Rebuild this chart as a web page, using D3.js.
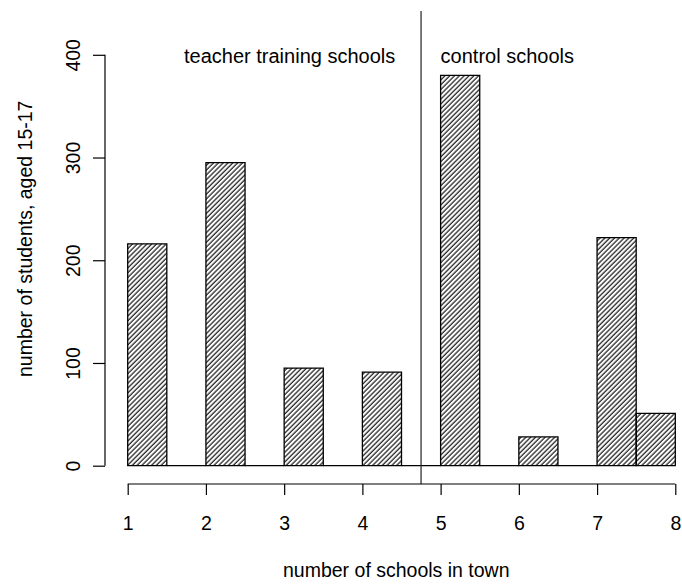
<!DOCTYPE html>
<html>
<head>
<meta charset="utf-8">
<script src="https://cdn.jsdelivr.net/npm/d3@7"></script>
<style>
  body { margin: 0; background: #fff; }
  text { font-family: "Liberation Sans", Arial, sans-serif; fill: #000; }
</style>
</head>
<body>
<svg id="chart"></svg>
<script>
// Chart size
const width = 682;
const height = 584;

// Data: each bar covers [start, start + 0.5]
const binStarts = [1, 1.5, 2, 2.5, 3, 3.5, 4, 4.5, 5, 5.5, 6, 6.5, 7, 7.5];
const counts = [216, 0, 295, 0, 95, 0, 91, 0, 380, 0, 28, 0, 222, 51];
const binWidth = 0.5;
const divider = 4.75;
const xTicks = [1, 2, 3, 4, 5, 6, 7, 8];
const yTicks = [0, 100, 200, 300, 400];
const groupLabels = [
  { text: "teacher training schools", x: 1.72 },
  { text: "control schools", x: 5.0 }
];

const fontSize = 19.5;
const svg = d3.select("#chart").attr("width", width).attr("height", height);

// Scales
const xScale = d3.scaleLinear().domain([1, 8]).range([127.7, 675.3]);
const yScale = d3.scaleLinear().domain([0, 400]).range([465.7, 54.8]);

// Hatch pattern
const defs = svg.append("defs");
defs
  .append("pattern")
  .attr("id", "hatch")
  .attr("patternUnits", "userSpaceOnUse")
  .attr("width", 3.4)
  .attr("height", 10)
  .attr("patternTransform", "rotate(45)")
  .append("line")
  .attr("x1", 1)
  .attr("y1", 0)
  .attr("x2", 1)
  .attr("y2", 10)
  .attr("stroke", "#000")
  .attr("stroke-width", 1.1);

// Bars (drawn as paths so zero bars still show as a line)
svg
  .selectAll("path.bar")
  .data(binStarts.map((s, i) => ({ start: s, value: counts[i] })))
  .enter()
  .append("path")
  .attr("class", "bar")
  .attr("d", (d) => {
    const x0 = xScale(d.start);
    const x1 = xScale(d.start + binWidth);
    const y0 = yScale(0);
    const y1 = yScale(d.value);
    return `M${x0},${y0}L${x0},${y1}L${x1},${y1}L${x1},${y0}Z`;
  })
  .attr("fill", "url(#hatch)")
  .attr("stroke", "#000")
  .attr("stroke-width", 1.3);

// Divider line
svg
  .append("line")
  .attr("x1", xScale(divider))
  .attr("x2", xScale(divider))
  .attr("y1", 11)
  .attr("y2", 484)
  .attr("stroke", "#222")
  .attr("stroke-width", 1.2);

// Group labels
svg
  .selectAll("text.group")
  .data(groupLabels)
  .enter()
  .append("text")
  .attr("class", "group")
  .attr("x", (d) => xScale(d.x))
  .attr("y", 63)
  .attr("font-size", 20)
  .text((d) => d.text);

// X axis
const xAxis = d3.axisBottom(xScale).tickValues(xTicks).tickSize(11).tickPadding(0).tickFormat(d3.format("d"));
const gx = svg.append("g").attr("transform", "translate(0,484)").call(xAxis);
gx.select(".domain").attr("d", `M${xScale(1)},0H${xScale(8)}`);
gx.selectAll("path, line").attr("stroke", "#000").attr("stroke-width", 1.2);
gx.selectAll("text")
  .attr("font-size", fontSize)
  .style("font-family", "Liberation Sans, Arial, sans-serif")
  .attr("y", 46)
  .attr("dy", 0);

// Y axis
const yAxis = d3.axisLeft(yScale).tickValues(yTicks).tickSize(12).tickPadding(0).tickFormat(d3.format("d"));
const gy = svg.append("g").attr("transform", "translate(105,0)").call(yAxis);
gy.select(".domain").attr("d", `M0,${yScale(0)}V${yScale(400)}`);
gy.selectAll("path, line").attr("stroke", "#000").attr("stroke-width", 1.2);
gy.selectAll("text")
  .attr("font-size", fontSize)
  .style("font-family", "Liberation Sans, Arial, sans-serif")
  .attr("x", 0)
  .attr("dy", 0)
  .attr("text-anchor", "middle")
  .attr("transform", "translate(-25,0) rotate(-90)");

// Axis titles
svg
  .append("text")
  .attr("x", 283)
  .attr("y", 577)
  .attr("font-size", fontSize)
  .text("number of schools in town");

svg
  .append("text")
  .attr("transform", "translate(32,377) rotate(-90)")
  .attr("font-size", fontSize)
  .text("number of students, aged 15-17");
</script>
</body>
</html>
